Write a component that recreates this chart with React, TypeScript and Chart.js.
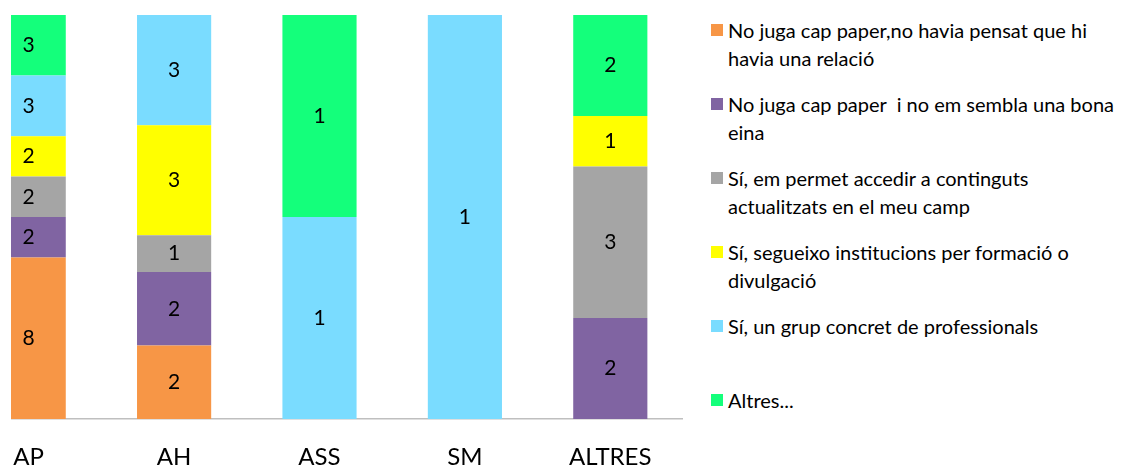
import React, { useEffect, useRef } from "react";
import { Chart, registerables } from "chart.js";

Chart.register(...registerables);

const categories = ["AP", "AH", "ASS", "SM", "ALTRES"];

const seriesLabels = [
  "No juga cap paper,no havia pensat que hi\nhavia una relació",
  "No juga cap paper  i no em sembla una bona\neina",
  "Sí, em permet accedir a continguts\nactualitzats en el meu camp",
  "Sí, segueixo institucions per formació o\ndivulgació",
  "Sí, un grup concret de professionals",
  "Altres...",
];

const orangeCounts = [8, 2, 0, 0, 0];
const purpleCounts = [2, 2, 0, 0, 2];
const grayCounts = [2, 1, 0, 0, 3];
const yellowCounts = [2, 3, 0, 0, 1];
const cyanCounts = [3, 3, 1, 1, 0];
const greenCounts = [3, 0, 1, 0, 2];

const seriesColors = ["#F79646", "#8064A2", "#A5A5A5", "#FFFF00", "#7ADCFF", "#14FF7B"];

const allCounts = [orangeCounts, purpleCounts, grayCounts, yellowCounts, cyanCounts, greenCounts];

const FONT = "Lato, 'Open Sans', sans-serif";

export default function App() {
  const canvasRef = useRef<HTMLCanvasElement | null>(null);

  useEffect(() => {
    const totals = categories.map((_, i) => allCounts.reduce((s, arr) => s + arr[i], 0));
    const datasets = allCounts.map((counts, k) => ({
      label: seriesLabels[k],
      data: counts.map((v, i) => (totals[i] ? (v / totals[i]) * 100 : 0)),
      counts,
      backgroundColor: seriesColors[k],
      borderWidth: 0,
      barPercentage: 0.51,
      categoryPercentage: 1,
    }));

    const labelPlugin = {
      id: "countLabels",
      afterDatasetsDraw(chart: any) {
        const ctx = chart.ctx;
        ctx.save();
        ctx.font = `21px ${FONT}`;
        ctx.fillStyle = "#000";
        ctx.textAlign = "center";
        ctx.textBaseline = "middle";
        chart.data.datasets.forEach((ds: any, di: number) => {
          const meta = chart.getDatasetMeta(di);
          meta.data.forEach((el: any, i: number) => {
            const c = ds.counts[i];
            if (!c) return;
            ctx.fillText(String(c), el.x, (el.y + el.base) / 2);
          });
        });
        ctx.restore();
      },
    };

    const chart = new Chart(canvasRef.current as HTMLCanvasElement, {
      type: "bar",
      data: { labels: categories, datasets: datasets as any },
      options: {
        animation: false,
        responsive: false,
        layout: { padding: { top: 15, left: 0, right: 0, bottom: 0 } },
        plugins: { legend: { display: false }, tooltip: { enabled: false } },
        scales: {
          x: {
            stacked: true,
            grid: { display: false, drawTicks: false },
            border: { display: true, color: "#BFBFBF", width: 1.5 },
            ticks: { color: "#000", font: { family: FONT, size: 24 }, padding: 24 },
            afterFit: (s: any) => {
              s.height = 46;
            },
          },
          y: { stacked: true, display: false, min: 0, max: 100 },
        },
      },
      plugins: [labelPlugin],
    });
    return () => chart.destroy();
  }, []);

  return (
    <div style={{ position: "absolute", left: 0, top: 0, width: 1122, height: 465, background: "#fff", overflow: "hidden" }}>
      <div style={{ position: "absolute", left: 11, top: 0, width: 673, height: 465, overflow: "hidden" }}>
        <canvas
          ref={canvasRef}
          width={727}
          height={465}
          style={{ position: "absolute", left: -55, top: 0, width: 727, height: 465 }}
        />
      </div>
      {seriesLabels.map((lab, i) => (
        <div key={i}>
          <div
            style={{
              position: "absolute",
              left: 711,
              top: 24 + i * 74,
              width: 12,
              height: 12,
              background: seriesColors[i],
            }}
          />
          <div
            style={{
              position: "absolute",
              left: 728,
              top: 16 + i * 74,
              font: `20px ${FONT}`,
              lineHeight: "28px",
              color: "#000",
              whiteSpace: "pre",
            }}
          >
            {lab}
          </div>
        </div>
      ))}
    </div>
  );
}
